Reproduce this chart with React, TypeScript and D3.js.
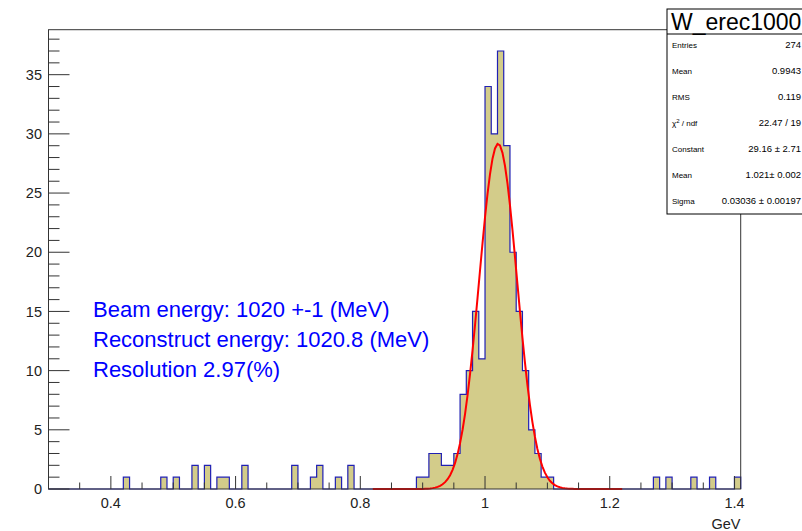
import React from "react";
import * as d3 from "d3";

// ---- data ----
const X_MIN = 0.3;
const X_MAX = 1.41;
const BIN_W = 0.01;
const Y_MAX = 38.8;

const binStarts = [
  0.42, 0.48, 0.5, 0.53, 0.55, 0.57, 0.58, 0.61, 0.69, 0.72, 0.73, 0.76, 0.78,
  0.89, 0.9, 0.91, 0.92, 0.93, 0.94, 0.95, 0.96, 0.97, 0.98, 0.99, 1.0, 1.01,
  1.02, 1.03, 1.04, 1.05, 1.06, 1.07, 1.08, 1.09, 1.1,
  1.27, 1.29, 1.33, 1.36, 1.4,
];
const binCounts = [
  1, 1, 1, 2, 2, 1, 1, 2, 2, 1, 2, 1, 2,
  1, 1, 3, 3, 2, 2, 3, 8, 10, 15, 11, 34, 30,
  37, 29, 20, 15, 10, 5, 3, 1, 1,
  1, 1, 1, 1, 1,
];

// Gaussian fit parameters (from stats box)
const fitConstant = 29.16;
const fitMean = 1.021;
const fitSigma = 0.03036;
const fitRange = [0.82, 1.22];

const statTitle = "W_erec1000";
const statLabels = ["Entries", "Mean", "RMS", "CHI", "Constant", "Mean", "Sigma"];
const statValues = ["274", "0.9943", "0.119", "22.47 / 19", "29.16 \u00b1 2.71", "1.021\u00b1 0.002", "0.03036 \u00b1 0.00197"];

const annotations = [
  "Beam energy: 1020 +-1 (MeV)",
  "Reconstruct energy: 1020.8 (MeV)",
  "Resolution 2.97(%)",
];

const xAxisTitle = "GeV";

const FONT = "'Liberation Sans', Arial, Helvetica, sans-serif";

export default function App() {
  const W = 802;
  const H = 531;
  const x = d3.scaleLinear().domain([X_MIN, X_MAX]).range([48.5, 740.7]);
  const y = d3.scaleLinear().domain([0, Y_MAX]).range([489, 29.7]);

  const nBins = Math.round((X_MAX - X_MIN) / BIN_W);
  const counts = new Array(nBins).fill(0);
  binStarts.forEach((s, i) => {
    const idx = Math.round((s - X_MIN) / BIN_W);
    if (idx >= 0 && idx < nBins) counts[idx] = binCounts[i];
  });
  const bins = counts.map((c, i) => ({ x0: X_MIN + i * BIN_W, c }));
  const stepData = [...bins, { x0: X_MAX, c: counts[nBins - 1] }];

  const area = d3
    .area<{ x0: number; c: number }>()
    .x((d) => x(d.x0))
    .y0(y(0))
    .y1((d) => y(d.c))
    .curve(d3.curveStepAfter);

  const outlinePts: [number, number][] = [];
  outlinePts.push([x(X_MIN), y(0)]);
  bins.forEach((b) => {
    outlinePts.push([x(b.x0), y(b.c)]);
    outlinePts.push([x(b.x0 + BIN_W), y(b.c)]);
  });
  outlinePts.push([x(X_MAX), y(0)]);
  const outlinePath = d3.line()(outlinePts) || "";

  const fitPts = d3.range(0, 101).map((i) => {
    const xv = fitRange[0] + ((fitRange[1] - fitRange[0]) * i) / 100;
    const v = fitConstant * Math.exp(-0.5 * Math.pow((xv - fitMean) / fitSigma, 2));
    return [x(xv), y(v)] as [number, number];
  });
  const fitPath = d3.line()(fitPts) || "";

  const yTicks = d3.range(0, 39, 1);
  const xTicks = d3.range(0, 23).map((i) => +(0.3 + i * 0.05).toFixed(2)).filter((v) => v > X_MIN && v <= X_MAX);
  const isMajorX = (v: number) => Math.abs(Math.round(v / 0.2) * 0.2 - v) < 1e-6;

  const axisColor = "#333";
  const left = x(X_MIN);
  const right = x(X_MAX);
  const top = y(Y_MAX);
  const bottom = y(0);

  return (
    <svg
      width={W}
      height={H}
      style={{ position: "absolute", left: 0, top: 0, display: "block", background: "#fff" }}
      fontFamily={FONT}
    >
      <rect x={0} y={0} width={W} height={H} fill="#fff" />
      <path d={area(stepData) || ""} fill="#d3cc8a" stroke="none" />
      <path d={outlinePath} fill="none" stroke="#2020b4" strokeWidth={1.2} />
      <path d={fitPath} fill="none" stroke="#ff0000" strokeWidth={2} />

      <rect x={left} y={top} width={right - left} height={bottom - top} fill="none" stroke={axisColor} strokeWidth={1} />

      {yTicks.map((t) => {
        const major = t % 5 === 0;
        return (
          <g key={"y" + t}>
            <line x1={left} x2={left + (major ? 21 : 11)} y1={y(t)} y2={y(t)} stroke={axisColor} strokeWidth={1} />
            {major && (
              <text x={42} y={y(t)} dy="0.36em" textAnchor="end" fontSize={14.5} fill="#222">
                {t}
              </text>
            )}
          </g>
        );
      })}

      {xTicks.map((t) => {
        const major = isMajorX(t);
        return (
          <g key={"x" + t}>
            <line x1={x(t)} x2={x(t)} y1={bottom} y2={bottom - (major ? 13 : 6.5)} stroke={axisColor} strokeWidth={1} />
            {major && (
              <text x={x(t)} y={507.5} textAnchor="middle" fontSize={14.5} fill="#222">
                {String(+t.toFixed(1))}
              </text>
            )}
          </g>
        );
      })}
      <text x={740.5} y={529} textAnchor="end" fontSize={14.5} fill="#222">
        {xAxisTitle}
      </text>

      {annotations.map((a, i) => (
        <text key={a} x={93} y={317 + i * 30} fontSize={22} fill="#0000ff">
          {a}
        </text>
      ))}

      <g>
        <rect x={667} y={9} width={150} height={205} fill="#fff" stroke="#000" strokeWidth={1} />
        <line x1={667} x2={802} y1={34} y2={34} stroke="#000" strokeWidth={1} />
        <text x={671} y={30} fontSize={23} fill="#000">
          {statTitle}
        </text>
        {statLabels.map((lab, i) => {
          const cy = 44.5 + i * 26.1;
          return (
            <g key={"s" + i}>
              <text x={672} y={cy + 3} fontSize={8} fill="#000">
                {lab === "CHI" ? (
                  <>
                    {"\u03c7"}
                    <tspan fontSize={6} dy={-3}>2</tspan>
                    <tspan dy={3}>{" / ndf"}</tspan>
                  </>
                ) : (
                  lab
                )}
              </text>
              <text x={801} y={cy + 3} fontSize={9.5} textAnchor="end" fill="#000">
                {statValues[i]}
              </text>
            </g>
          );
        })}
      </g>
    </svg>
  );
}
